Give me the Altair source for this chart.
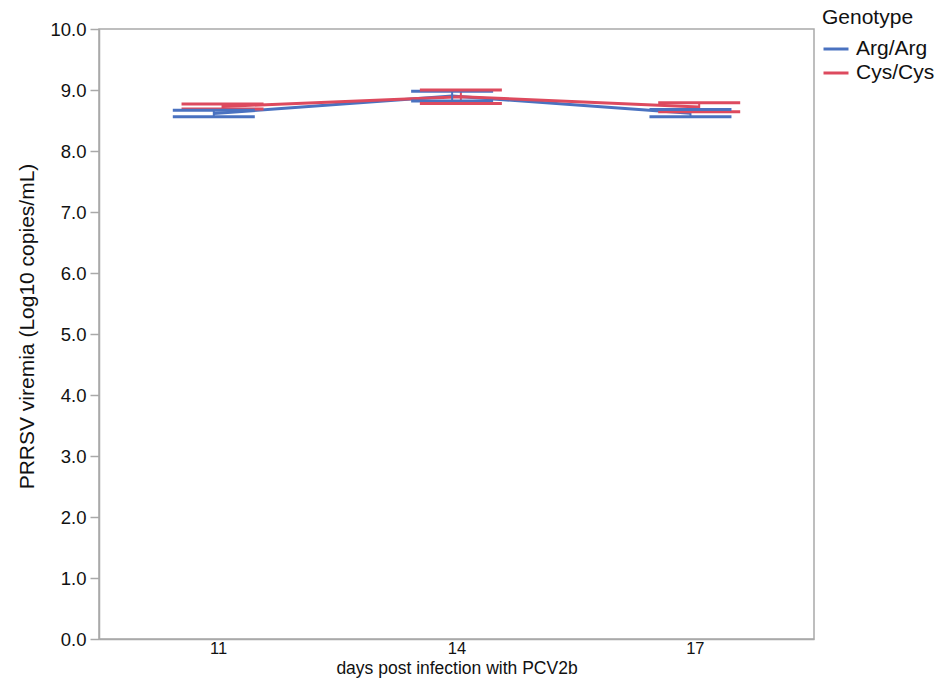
import altair as alt
import pandas as pd

# PRRSV viremia by genotype: mean with 95% CI at each day
days = [11, 14, 17]
genotypes = ["Arg/Arg", "Cys/Cys"]
arg_mean = [8.615, 8.90, 8.62]
arg_lower = [8.56, 8.82, 8.56]
arg_upper = [8.67, 8.98, 8.68]
cys_mean = [8.73, 8.89, 8.72]
cys_lower = [8.69, 8.78, 8.645]
cys_upper = [8.77, 9.00, 8.79]
colors = ["#4a72c0", "#dd4a5e"]

rows = []
for g, means, lows, highs in [
    ("Arg/Arg", arg_mean, arg_lower, arg_upper),
    ("Cys/Cys", cys_mean, cys_lower, cys_upper),
]:
    for d, m, lo, hi in zip(days, means, lows, highs):
        rows.append({"genotype": g, "day": d, "mean": m, "lower": lo, "upper": hi})
df = pd.DataFrame(rows)

FONT = "Liberation Sans"
GRAY = "#a9a9a9"
INK = "#111111"

color_scale = alt.Scale(domain=genotypes, range=colors)
x_scale = alt.Scale(domain=[9.5, 18.5], nice=False, zero=False)
y_scale = alt.Scale(domain=[0, 10], nice=False)

x_axis = alt.Axis(
    title="days post infection with PCV2b",
    values=days,
    format="d",
    ticks=False,
    grid=False,
    labelFontSize=16.5,
    labelPadding=1,
    titleFontSize=17.5,
    titlePadding=3,
)
y_axis = alt.Axis(
    title="PRRSV viremia (Log10 copies/mL)",
    values=[i * 0.5 for i in range(21)],
    labelExpr="datum.value % 1 === 0 ? format(datum.value, '.1f') : ''",
    tickSize={"condition": {"test": "datum.value % 1 !== 0", "value": 4}, "value": 9},
    grid=False,
    labelPadding=4,
    titleFontSize=21,
    titlePadding=12,
    titleY=297,
)

# dodge the two genotypes slightly around each day
base = alt.Chart(df).transform_calculate(
    xpos="datum.day + (datum.genotype === 'Arg/Arg' ? -0.055 : 0.055)"
)

lines = base.mark_line(strokeWidth=3).encode(
    x=alt.X("xpos:Q", scale=x_scale, axis=x_axis),
    y=alt.Y("mean:Q", scale=y_scale, axis=y_axis),
    color=alt.Color(
        "genotype:N",
        scale=color_scale,
        legend=alt.Legend(
            title="Genotype",
            orient="none",
            legendX=723,
            legendY=-22,
            symbolType="stroke",
            symbolSize=625,
            symbolStrokeWidth=3,
            labelOffset=6,
            labelFontSize=21,
            titleFontSize=21,
            titleFontWeight="normal",
            labelFont=FONT,
            titleFont=FONT,
            labelColor=INK,
            titleColor=INK,
            rowPadding=-2,
            titlePadding=7,
        ),
    ),
)

color_enc = alt.Color("genotype:N", scale=color_scale, legend=None)

stems = base.mark_rule(strokeWidth=2).encode(
    x="xpos:Q", y="lower:Q", y2="upper:Q", color=color_enc
)
caps_low = base.mark_tick(orient="horizontal", size=82, thickness=3, opacity=1).encode(
    x="xpos:Q", y="lower:Q", color=color_enc
)
caps_high = base.mark_tick(orient="horizontal", size=82, thickness=3, opacity=1).encode(
    x="xpos:Q", y="upper:Q", color=color_enc
)

chart = (
    alt.layer(lines, stems, caps_low, caps_high)
    .properties(
        width=715,
        height=610,
        padding={"left": 99, "top": 29, "right": 132, "bottom": 41},
        autosize=alt.AutoSizeParams(type="none"),
        background="white",
    )
    .configure_view(stroke=GRAY, strokeWidth=1.5)
    .configure_axis(
        labelFont=FONT,
        titleFont=FONT,
        labelFontSize=18.5,
        titleFontSize=18.5,
        titleFontWeight="normal",
        labelColor=INK,
        titleColor=INK,
        domainColor=GRAY,
        domainWidth=1.5,
        tickColor=GRAY,
        tickWidth=1.5,
    )
)

chart.save("out.html", embed_options={"renderer": "svg", "actions": False})
